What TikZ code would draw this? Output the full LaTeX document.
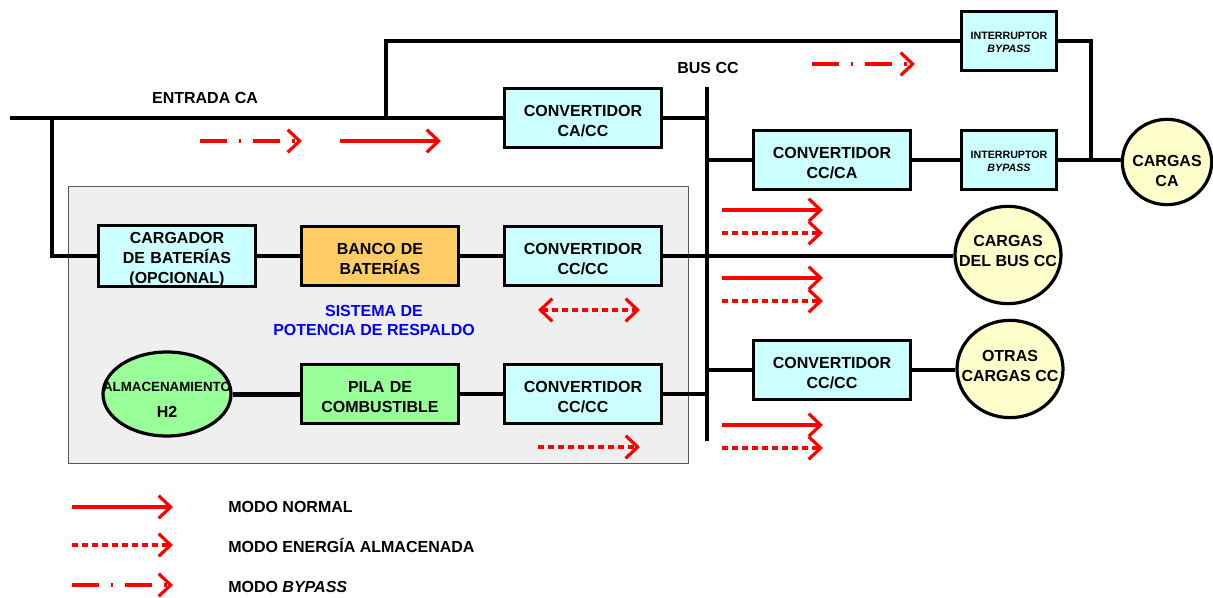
\documentclass[tikz,border=0pt]{standalone}
\usepackage{fontspec}
\setmainfont{Liberation Sans}
\usetikzlibrary{arrows.meta, positioning, shapes.geometric, calc}
\definecolor{boxcyan}{HTML}{CCFFFF}
\definecolor{boxorange}{HTML}{FFCC66}
\definecolor{boxgreen}{HTML}{99FF99}
\definecolor{loadfill}{HTML}{FFFFCC}
\definecolor{panelfill}{HTML}{EFEFEF}
\definecolor{flowred}{HTML}{FF0000}
\definecolor{sysblue}{HTML}{0000FF}

\begin{document}
\begin{tikzpicture}[x=0.75pt, y=-0.75pt,
    font=\fontsize{12}{15}\selectfont\bfseries,
    wire/.style={line width=2.4pt},
    block/.style={draw, line width=2.4pt, fill=boxcyan, minimum height=44pt, inner sep=0pt, align=center},
    unit/.style={block, minimum width=118pt, text width=112pt, execute at begin node={\rule{0pt}{13pt}}},
    breaker/.style={block, minimum width=71pt, text width=68pt, font=\fontsize{8}{9.75}\selectfont\bfseries,
        execute at begin node={\rule{0pt}{7pt}}},
    load/.style={ellipse, draw, line width=2.4pt, fill=loadfill, inner sep=0pt},
    flownormal/.style={flowred, line width=2.4pt, -{Straight Barb[length=9pt,width=17pt]}},
    flowstored/.style={flownormal, dash pattern=on 4.5pt off 3pt},
    flowbypass/.style={flownormal, dash pattern=on 20pt off 9pt on 2pt off 9pt}]
\useasboundingbox (0,0) rectangle (1213,598);
% === BACKUP POWER PANEL ===
\draw[fill=panelfill, draw=black!65, line width=0.75pt] (68,187) rectangle (688,463);
\node[sysblue, align=center, font=\fontsize{12}{14.25}\selectfont\bfseries] (sistema) at (374,320) {SISTEMA DE\\POTENCIA DE RESPALDO};
% === BLOCKS ===
\node[unit] (cacc) at (583,118) {CONVERTIDOR\\CA/CC};
\node[unit] (ccca) at (832,160) {CONVERTIDOR\\CC/CA};
\node[breaker] (bypassup) at (1009,41) {INTERRUPTOR\\\textit{BYPASS}};
\node[breaker] (bypasslo) at (1009,160) {INTERRUPTOR\\\textit{BYPASS}};
\node[load, minimum width=67pt, minimum height=64pt, label={[align=center, yshift=-6.5pt]center:CARGAS\\CA}] (cargasca) at (1167,162) {};
\node[unit] (cargador) at (177,256) {CARGADOR\\DE BATERÍAS\\(OPCIONAL)};
\node[unit, fill=boxorange] (banco) at (380,256) {BANCO DE\\BATERÍAS};
\node[unit] (dcdcbat) at (583,256) {CONVERTIDOR\\CC/CC};
\node[load, minimum width=79.5pt, minimum height=73pt, label={[align=center, yshift=3pt]center:CARGAS\\DEL BUS CC}] (cargasbus) at (1008,255) {};
\node[load, fill=boxgreen, minimum width=96pt, minimum height=63pt,
    label={[yshift=5pt, font=\fontsize{10}{12}\selectfont\bfseries]center:ALMACENAMIENTO},
    label={[yshift=-13.5pt]center:H2}] (almacen) at (167,394) {};
\node[unit, fill=boxgreen] (pila) at (380,394) {PILA DE\\COMBUSTIBLE};
\node[unit] (dcdcpila) at (583,394) {CONVERTIDOR\\CC/CC};
\node[unit] (dcdcout) at (832,370) {CONVERTIDOR\\CC/CC};
\node[load, minimum width=79.5pt, minimum height=73pt, label={[align=center, yshift=2pt]center:OTRAS\\CARGAS CC}] (otras) at (1010,369) {};
% === LABELS ===
\node (entrada) at (205,98) {ENTRADA CA};
\node (buslabel) at (708,68) {BUS CC};
% === WIRING ===
\coordinate (acin) at (10,118);
\coordinate (tapchg) at (52,118);
\coordinate (tapbyp) at (386,118);
\coordinate (bustop) at (707,87);
\coordinate (busbot) at (707,441);
\coordinate (acjoin) at (1091,161);
\draw[wire] (acin) -- (cacc.west);
\draw[wire] (tapchg) |- (cargador.west);
\draw[wire] (tapbyp) |- (bypassup.west);
\draw[wire] (bustop) -- (busbot);
\draw[wire] (cacc.east) -- (cacc.east -| bustop);
\draw[wire] (ccca.west -| bustop) -- (ccca.west);
\draw[wire] (ccca.east) -- (bypasslo.west);
\draw[wire] (bypassup.east) -| (acjoin);
\draw[wire] (bypasslo.east) -- (bypasslo.east -| cargasca.west);
\draw[wire] (cargador.east) -- (banco.west);
\draw[wire] (banco.east) -- (dcdcbat.west);
\draw[wire] (dcdcbat.east) -- (dcdcbat.east -| cargasbus.west);
\draw[line width=3.75pt] (almacen.east) -- (pila.west);
\draw[wire] (pila.east) -- (dcdcpila.west);
\draw[wire] (dcdcpila.east) -- (dcdcpila.east -| bustop);
\draw[wire] (dcdcout.west -| bustop) -- (dcdcout.west);
\draw[wire] (dcdcout.east) -- (dcdcout.east -| otras.west);
% === POWER FLOW ARROWS ===
\draw[flowbypass] (200,141) -- (302,141);
\draw[flownormal] (340,141) -- (441,141);
\draw[flowbypass] (812,64) -- (915,64);
\draw[flowstored, {Straight Barb[length=9pt,width=17pt]}-{Straight Barb[length=9pt,width=17pt]}] (538,310) -- (640,310);
\draw[flowstored] (538,447) -- (640,447);
\foreach \yy in {210,278,425} {
    \draw[flownormal] (722,\yy) -- (823,\yy);
    \draw[flowstored] (722,\yy+23) -- (823,\yy+23);
}
% === LEGEND ===
\draw[flownormal] (72,507) -- (173,507);
\draw[flowstored] (72,545) -- (173,545);
\draw[flowbypass] (72,585) -- (173,585);
\node[anchor=west, inner sep=0pt] (legnormal) at (228,507) {MODO NORMAL};
\node[anchor=west, inner sep=0pt] (legstored) at (228,545) {MODO ENERGÍA ALMACENADA};
\node[anchor=west, inner sep=0pt] (legbypass) at (228,587) {MODO \textit{BYPASS}};
\end{tikzpicture}
\end{document}
